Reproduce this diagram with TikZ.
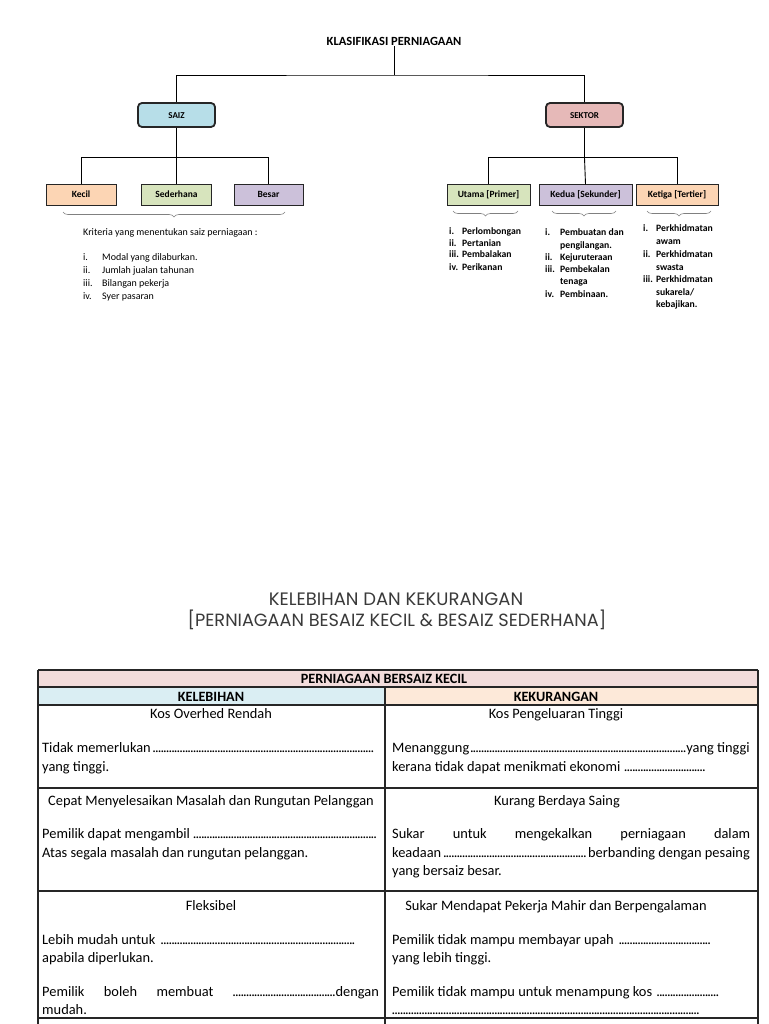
\documentclass[tikz,border=0pt]{standalone}
\usepackage{fontspec}
\setmainfont{Carlito}
\newfontfamily\headfont{Poppins}
\usetikzlibrary{decorations.pathreplacing}
\definecolor{saizblue}{HTML}{B7DEE8}
\definecolor{sektorpink}{HTML}{E6B9B8}
\definecolor{peachc}{HTML}{FCD5B4}
\definecolor{lgreen}{HTML}{D7E4BD}
\definecolor{lav}{HTML}{CCC1DA}
\definecolor{hdrpink}{HTML}{F2DCDB}
\definecolor{hdrblue}{HTML}{DAEEF3}
\definecolor{hdrpeach}{HTML}{FDE9D9}
\definecolor{linec}{HTML}{262626}
\definecolor{headgray}{HTML}{3A3A3A}
\newcommand\dfill{\leaders\hbox to 2.7pt{\hss.\hss}\hfill}
\begin{document}
\begin{tikzpicture}[x=1pt,y=-1pt,
  mainbox/.style={draw=linec, line width=1.8pt, rounded corners=4pt, minimum width=77pt, minimum height=24pt, inner sep=0pt, text height=6.5pt, text depth=0pt, font=\fontsize{9}{10}\selectfont\bfseries},
  subbox/.style={draw=linec, line width=0.9pt, minimum height=20.5pt, inner sep=0pt, text height=7pt, text depth=2pt, font=\fontsize{9.5}{10}\selectfont\bfseries},
  conn/.style={draw=black, line width=0.9pt},
  brc/.style={draw=gray, line width=0.6pt, decorate, decoration={brace, mirror, amplitude=5pt}},
  tx/.style={inner sep=0pt, anchor=base west, font=\fontsize{10}{11}\selectfont},
  txb/.style={inner sep=0pt, anchor=base west, font=\fontsize{9.7}{11}\selectfont\bfseries},
  tb/.style={inner sep=0pt, anchor=base west, font=\fontsize{14.4}{16}\selectfont},
  tbc/.style={inner sep=0pt, anchor=base, font=\fontsize{14.4}{16}\selectfont},
  tbh/.style={inner sep=0pt, anchor=base, font=\fontsize{14.2}{15}\selectfont\bfseries},
  grid/.style={draw=linec, line width=1.4pt}
]
\useasboundingbox (0,0) rectangle (768,1024);
\fill[white] (0,0) rectangle (768,1024);

% ---------- tree ----------
\node[inner sep=1pt, font=\fontsize{12.5}{14}\selectfont\bfseries] (title) at (394,41) {KLASIFIKASI PERNIAGAAN};
\node[mainbox, fill=saizblue] (saiz) at (176.5,115) {SAIZ};
\node[mainbox, fill=sektorpink] (sektor) at (584.5,115) {SEKTOR};
\coordinate (tj) at (394,75);
\draw[conn] (title.south) -- (tj);
\draw[conn] (saiz.north) |- (tj) -| (sektor.north);

\node[subbox, fill=peachc, minimum width=70pt] (kecil) at (81,195) {Kecil};
\node[subbox, fill=lgreen, minimum width=70pt] (sederhana) at (176.5,195) {Sederhana};
\node[subbox, fill=lav, minimum width=69pt] (besar) at (268.5,195) {Besar};
\draw[conn] (saiz.south) -- ++(0,30) coordinate (sj);
\draw[conn] (kecil.north) |- (sj) -| (besar.north);
\draw[conn] (sj) -- (sederhana.north);

\node[subbox, fill=lgreen, minimum width=83pt] (utama) at (488.5,195) {Utama [Primer]};
\node[subbox, fill=lav, minimum width=93pt] (kedua) at (585.5,195) {Kedua [Sekunder]};
\node[subbox, fill=peachc, minimum width=82pt] (ketiga) at (677,195) {Ketiga [Tertier]};
\draw[conn] (sektor.south) -- ++(0,30) coordinate (kj);
\draw[conn] (utama.north) |- (kj) -| (ketiga.north);
\draw[conn] (kj) -- (kedua.north);

\draw[brc] (63,212) -- (285,212);
\draw[brc] (453,211) -- (518,211);
\draw[brc] (552,211) -- (616,211);
\draw[brc] (647,211) -- (711,211);

% saiz criteria
\node[tx] (k0) at (83,236) {Kriteria yang menentukan saiz perniagaan :};
\node[tx] (k1n) at (83,260) {i.};   \node[tx] (k1) at (102,260) {Modal yang dilaburkan.};
\node[tx] (k2n) at (83,273) {ii.};  \node[tx] (k2) at (102,273) {Jumlah jualan tahunan};
\node[tx] (k3n) at (83,286) {iii.}; \node[tx] (k3) at (102,286) {Bilangan pekerja};
\node[tx] (k4n) at (83,299) {iv.};  \node[tx] (k4) at (102,299) {Syer pasaran};

% utama
\node[txb] (u1n) at (449,234) {i.};   \node[txb] (u1) at (462,234) {Perlombongan};
\node[txb] (u2n) at (449,246) {ii.};  \node[txb] (u2) at (462,246) {Pertanian};
\node[txb] (u3n) at (449,258) {iii.}; \node[txb] (u3) at (462,258) {Pembalakan};
\node[txb] (u4n) at (449,270) {iv.};  \node[txb] (u4) at (462,270) {Perikanan};

% kedua
\node[txb] (s1n) at (545,236) {i.};   \node[txb] (s1) at (560,236) {Pembuatan dan};
\node[txb] (s1b) at (560,248) {pengilangan.};
\node[txb] (s2n) at (545,260) {ii.};  \node[txb] (s2) at (560,260) {Kejuruteraan};
\node[txb] (s3n) at (545,272) {iii.}; \node[txb] (s3) at (560,272) {Pembekalan};
\node[txb] (s3b) at (560,284) {tenaga};
\node[txb] (s4n) at (545,297) {iv.};  \node[txb] (s4) at (560,297) {Pembinaan.};

% ketiga
\node[txb] (t1n) at (643,232) {i.};   \node[txb] (t1) at (656,232) {Perkhidmatan};
\node[txb] (t1b) at (656,244) {awam};
\node[txb] (t2n) at (643,257) {ii.};  \node[txb] (t2) at (656,257) {Perkhidmatan};
\node[txb] (t2b) at (656,270) {swasta};
\node[txb] (t3n) at (643,282) {iii.}; \node[txb] (t3) at (656,282) {Perkhidmatan};
\node[txb] (t3b) at (656,295) {sukarela/};
\node[txb] (t3c) at (656,307) {kebajikan.};

% ---------- second heading ----------
\node[inner sep=0pt, anchor=base, text=headgray, font=\headfont\fontsize{18}{21}\selectfont] (h1) at (396,605) {KELEBIHAN DAN KEKURANGAN};
\node[inner sep=0pt, anchor=base, text=headgray, font=\headfont\fontsize{17.7}{21}\selectfont] (h2) at (397,626) {[PERNIAGAAN BESAIZ KECIL \& BESAIZ SEDERHANA]};

% ---------- table ----------
\fill[hdrpink] (38,670) rectangle (758,687);
\fill[hdrblue] (38,687) rectangle (385,705);
\fill[hdrpeach] (385,687) rectangle (758,705);
\foreach \yy in {670,687,705,788,891,1018} \draw[grid] (38,\yy) -- (758,\yy);
\draw[grid] (38,670) -- (38,1030);
\draw[grid] (758,670) -- (758,1030);
\draw[grid] (385,687) -- (385,1030);

\node[tbh] (th) at (384,683) {PERNIAGAAN BERSAIZ KECIL};
\node[tbh] (tl) at (211,701) {KELEBIHAN};
\node[tbh] (tr) at (556,701) {KEKURANGAN};

% row 1
\node[tbc] (r1l) at (211,718) {Kos Overhed Rendah};
\node[tbc] (r1r) at (556,718) {Kos Pengeluaran Tinggi};
\node[tb] (a1) at (42,752) {\hbox to 334pt{Tidak memerlukan\dfill}};
\node[tb] (a2) at (42,771) {yang tinggi.};
\node[tb] (b1) at (392,752) {\hbox to 358pt{Menanggung\dfill yang tinggi}};
\node[tb] (b2) at (392,771) {\hbox to 315pt{kerana tidak dapat menikmati ekonomi \dfill}};

% row 2
\node[tbc] (r2l) at (211,805) {Cepat Menyelesaikan Masalah dan Rungutan Pelanggan};
\node[tbc] (r2r) at (557,805) {Kurang Berdaya Saing};
\node[tb] (c1) at (42,838) {\hbox to 335pt{Pemilik dapat mengambil \dfill}};
\node[tb] (c2) at (42,857) {Atas segala masalah dan rungutan pelanggan.};
\node[tb] (d1) at (392,838) {\hbox to 358pt{Sukar untuk mengekalkan perniagaan dalam}};
\node[tb] (d2) at (392,857) {\hbox to 358pt{keadaan\dfill berbanding dengan pesaing}};
\node[tb] (d3) at (392,875) {yang bersaiz besar.};

% row 3
\node[tbc] (r3l) at (211,910) {Fleksibel};
\node[tbc] (r3r) at (556,910) {Sukar Mendapat Pekerja Mahir dan Berpengalaman};
\node[tb] (e1) at (42,944) {\hbox to 314pt{Lebih mudah untuk \dfill}};
\node[tb] (e2) at (42,962) {apabila diperlukan.};
\node[tb] (e3) at (42,996) {\hbox to 337pt{Pemilik boleh membuat \hbox to 103pt{\dfill}dengan}};
\node[tb] (e4) at (42,1014) {mudah.};
\node[tb] (f1) at (392,944) {\hbox to 320pt{Pemilik tidak mampu membayar upah \dfill}};
\node[tb] (f2) at (392,962) {yang lebih tinggi.};
\node[tb] (f3) at (392,996) {\hbox to 328pt{Pemilik tidak mampu untuk menampung kos \dfill}};
\node[tb] (f4) at (392,1014) {\hbox to 308pt{\dfill}};
\end{tikzpicture}
\end{document}
